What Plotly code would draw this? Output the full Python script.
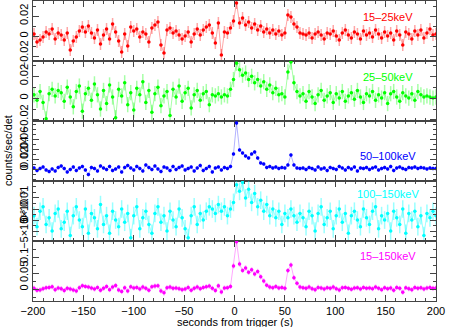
import plotly.graph_objects as go
from plotly.subplots import make_subplots

# bin centres, seconds from trigger
t = [-199, -196, -193, -190, -187, -184, -181, -178, -175, -172,
     -169, -166, -163, -160, -157, -154, -151, -148, -145, -142,
     -139, -136, -133, -130, -127, -124, -121, -118, -115, -112,
     -109, -106, -103, -100, -97, -94, -91, -88, -85, -82,
     -79, -76, -73, -70, -67, -64, -61, -58, -55, -52,
     -49, -46, -43, -40, -37, -34, -31, -28, -25, -22,
     -19, -16, -13, -10, -7, -4, -1, 2, 5, 8,
     11, 14, 17, 20, 23, 26, 29, 32, 35, 38,
     41, 44, 47, 50, 53, 56, 59, 62, 65, 68,
     71, 74, 77, 80, 83, 86, 89, 92, 95, 98,
     101, 104, 107, 110, 113, 116, 119, 122, 125, 128,
     131, 134, 137, 140, 143, 146, 149, 152, 155, 158,
     161, 164, 167, 170, 173, 176, 179, 182, 185, 188,
     191, 194, 197, 200]

rate_15_25 = [
    0.002, -0.006, -0.004, -0.001, 0.004, 0.002, 0.007, -0.003, 0.003, 0.001,
    -0.004, 0.003, -0.014, -0.005, -0.001, 0.005, 0.009, 0.004, 0.010, 0.003,
    -0.002, 0.006, -0.008, 0.001, 0.007, -0.003, 0.012, 0.004, -0.005, -0.016,
    0.002, -0.010, 0.009, 0.005, 0.007, -0.001, 0.004, 0.002, -0.006, 0.008,
    0.011, 0.014, -0.009, -0.017, 0.006, 0.008, 0.003, 0.005, 0.001, -0.003,
    0.000, 0.004, -0.006, 0.002, 0.007, 0.001, 0.006, 0.009, 0.011, 0.003,
    -0.007, 0.013, -0.019, 0.004, 0.003, 0.008,
    0.015, 0.033, 0.013, 0.018, 0.011, 0.014, 0.008, 0.012, 0.006, 0.010,
    0.004, 0.007, 0.003, 0.006, 0.002, 0.005, 0.001, 0.003, 0.021, 0.019,
    0.012, 0.009, 0.003,
    0.002, 0.001, 0.003, -0.002, 0.002, 0.004, 0.001, -0.003, 0.003, 0.002,
    0.005, 0.000, -0.004, 0.003, 0.006, 0.001, -0.002, 0.004, 0.002, -0.003,
    0.005, 0.001, 0.003, -0.001, 0.006, 0.002, -0.002, 0.004, 0.000, 0.003,
    -0.004, 0.005, 0.001, -0.009, 0.004, 0.002, -0.003, 0.005, 0.001, 0.006,
    -0.002, 0.003, 0.007, 0.001, 0.002]

rate_25_50 = [
    0.003, -0.002, 0.006, -0.004, -0.019, 0.004, 0.008, 0.002, 0.007, 0.005,
    -0.003, 0.010, 0.001, -0.008, 0.006, 0.011, -0.012, 0.004, 0.009, -0.002,
    0.013, 0.003, -0.010, 0.007, -0.005, 0.012, 0.001, -0.018, 0.008, 0.002,
    0.014, -0.006, 0.005, -0.011, 0.009, 0.003, 0.015, -0.004, 0.007, -0.013,
    0.004, 0.010, -0.007, 0.002, 0.006, -0.016, 0.008, 0.001, 0.011, -0.003,
    0.005, 0.009, -0.009, 0.003, 0.007, -0.002, 0.004, 0.006, -0.006, 0.003,
    0.002, 0.004, 0.001, 0.003, 0.002, 0.008,
    0.017, 0.032, 0.026, 0.021, 0.023, 0.017, 0.020, 0.014, 0.017, 0.011,
    0.015, 0.008, 0.012, 0.005, 0.009, 0.003, 0.004, 0.001, 0.024, 0.033,
    0.014, 0.006, 0.002,
    0.004, -0.003, 0.006, 0.001, -0.005, 0.003, 0.007, -0.002, 0.002, 0.005,
    -0.004, 0.004, 0.000, 0.006, -0.003, 0.002, 0.005, -0.001, 0.007, 0.001,
    -0.004, 0.004, 0.002, 0.006, -0.002, 0.003, 0.000, 0.005, -0.005, 0.004,
    0.006, 0.001, -0.003, 0.005, 0.002, 0.000, 0.004, -0.002, 0.006, 0.003,
    0.001, 0.002, 0.001, 0.000, 0.001]

rate_50_100 = [
    0.002, -0.003, 0.001, 0.004, -0.002, -0.005, 0.000, -0.004, 0.003, 0.006,
    0.001, -0.006, -0.001, 0.004, -0.003, 0.002, 0.005, -0.002, -0.011, 0.003,
    0.001, -0.004, 0.006, 0.002, -0.001, 0.005, -0.003, 0.000, 0.004, -0.006,
    0.003, 0.007, 0.002, -0.002, 0.005, 0.001, -0.004, 0.008, 0.003, -0.001,
    0.006, 0.000, -0.005, 0.004, 0.002, -0.003, 0.005, -0.001, 0.003, 0.006,
    -0.002, 0.001, 0.004, -0.004, 0.002, 0.007, -0.003, 0.001, 0.005, -0.006,
    0.002, 0.004, -0.002, 0.003, 0.001, 0.005,
    0.030, 0.092, 0.038, 0.032, 0.026, 0.022, 0.030, 0.034, 0.022, 0.012,
    0.010, 0.003, 0.005, 0.002, 0.004, 0.001, 0.003, 0.002, 0.008, 0.028,
    0.008, 0.002, 0.001,
    0.002, -0.001, 0.003, 0.001, -0.002, 0.004, 0.000, 0.002, -0.003, 0.003,
    0.001, -0.001, 0.005, 0.002, -0.002, 0.003, 0.000, 0.004, -0.004, 0.002,
    0.001, 0.003, -0.001, 0.002, 0.004, -0.002, 0.001, 0.003, 0.000, 0.005,
    -0.003, 0.002, 0.004, 0.001, -0.001, 0.003, 0.002, 0.004, 0.001, 0.003,
    0.002, 0.000, 0.002, 0.001, 0.001]

rate_100_150 = [
    0.002, -0.003, 0.004, 0.006, -0.002, 0.001, -0.005, 0.003, 0.005, -0.004,
    -0.001, 0.004, -0.007, 0.002, 0.006, 0.000, -0.003, 0.005, -0.006, 0.003,
    0.001, -0.004, 0.007, -0.002, 0.002, -0.006, 0.004, 0.000, -0.003, 0.005,
    -0.001, 0.003, -0.008, 0.002, 0.006, -0.004, 0.001, 0.004, -0.002, -0.006,
    0.003, 0.006, -0.001, 0.002, -0.005, 0.004, 0.000, -0.003, 0.005, 0.001,
    -0.004, -0.008, 0.002, 0.006, -0.002, 0.003, 0.000, 0.004, 0.006, 0.005,
    0.003, 0.007, 0.004, 0.006, 0.002, 0.005,
    0.008, 0.016, 0.013, 0.017, 0.010, 0.014, 0.008, 0.012, 0.006, 0.009,
    0.004, 0.007, 0.002, 0.005, 0.001, 0.004, -0.002, 0.003, 0.001, 0.005,
    0.002, -0.001, 0.003,
    0.001, -0.003, 0.004, 0.002, -0.005, 0.003, 0.006, -0.002, 0.001, 0.004,
    -0.004, 0.002, 0.005, -0.001, 0.003, -0.006, 0.002, 0.004, 0.000, -0.003,
    0.005, 0.001, -0.002, 0.004, 0.006, -0.004, 0.002, 0.000, 0.003, -0.005,
    0.004, 0.001, -0.002, 0.005, -0.006, 0.003, 0.000, 0.004, -0.003, 0.002,
    -0.007, 0.003, 0.001, 0.004, 0.002]

rate_15_150 = [
    0.002, -0.004, -0.003, 0.001, 0.004, 0.005, 0.007, -0.002, 0.003, 0.001,
    -0.005, 0.002, 0.000, -0.003, -0.006, 0.004, 0.010, 0.008, 0.006, 0.003,
    0.000, 0.005, -0.004, 0.002, 0.008, -0.002, 0.006, 0.011, -0.003, -0.008,
    0.004, -0.006, 0.007, 0.003, 0.005, 0.000, 0.006, 0.002, -0.004, 0.007,
    0.009, 0.010, -0.006, -0.012, 0.004, 0.006, 0.002, 0.003, 0.001, -0.002,
    0.000, 0.005, -0.004, 0.002, 0.006, 0.001, 0.005, 0.007, 0.009, 0.002,
    -0.005, 0.010, -0.009, 0.003, 0.004, 0.008,
    0.072, 0.148, 0.078, 0.058, 0.066, 0.052, 0.060, 0.047, 0.055, 0.038,
    0.025, 0.012, 0.006, 0.004, 0.008, 0.003, 0.005, 0.002, 0.058, 0.075,
    0.035, 0.018, 0.006,
    0.004, 0.002, 0.006, 0.001, -0.002, 0.005, 0.003, 0.000, 0.004, 0.002,
    0.006, 0.001, -0.003, 0.004, 0.005, 0.002, -0.001, 0.003, 0.004, 0.000,
    0.005, 0.002, 0.003, 0.001, 0.006, 0.002, -0.002, 0.004, 0.001, 0.003,
    -0.004, 0.005, 0.002, -0.010, 0.004, 0.001, -0.002, 0.005, 0.002, 0.004,
    0.000, 0.003, 0.005, 0.002, 0.003]

bands = ['15\u201325keV', '25\u201350keV', '50\u2013100keV', '100\u2013150keV', '15\u2013150keV']
rates = [rate_15_25, rate_25_50, rate_50_100, rate_100_150, rate_15_150]
errors = [0.006, 0.007, 0.004, 0.004, 0.008]

colors = ['#ff0000', '#00ff00', '#0000ff', '#00ffff', '#ff00ff']
pale = ['rgba(255,0,0,0.35)', 'rgba(0,255,0,0.35)', 'rgba(0,0,255,0.3)',
        'rgba(0,255,255,0.4)', 'rgba(255,0,255,0.35)']

y_ranges = [[-0.025, 0.035], [-0.021, 0.034], [-0.024, 0.096], [-0.0095, 0.0177], [-0.0375, 0.15]]
y_ticks = [[-0.02, 0, 0.02], [-0.02, 0, 0.02], [0, 0.02, 0.04, 0.06],
           [-0.005, 0, 0.005, 0.01], [0, 0.05, 0.1]]
y_labels = [['\u22120.02', '0', '0.02'], ['\u22120.02', '0', '0.02'], ['0', '0.02', '0.04', '0.06'],
            ['\u22125\u00d710\u207b\u00b3', '0', '5\u00d710\u207b\u00b3', '0.01'], ['0', '0.05', '0.1']]
y_minor = [0.01, 0.01, 0.01, 0.0025, 0.025]
# where each band label sits, in that panel's own units
label_y = [0.019, 0.0193, 0.026, 0.0118, 0.103]

font = 'Liberation Sans, Arial, sans-serif'
axcol = '#444444'

fig = make_subplots(rows=5, cols=1, shared_xaxes=True, vertical_spacing=0)

for i in range(5):
    r = i + 1
    fig.add_trace(go.Scatter(
        x=t, y=rates[i], mode='lines+markers',
        line=dict(color=pale[i], width=1),
        marker=dict(color=colors[i], size=3.5, symbol='circle'),
        error_y=dict(type='constant', value=errors[i], color=pale[i], thickness=1.5, width=0),
        error_x=dict(type='constant', value=1.5, color=pale[i], thickness=1, width=0),
        showlegend=False), row=r, col=1)
    fig.update_yaxes(range=y_ranges[i], tickvals=y_ticks[i], ticktext=y_labels[i],
                     tickangle=-90, minor=dict(dtick=y_minor[i], ticks='inside', ticklen=3, tickcolor=axcol),
                     row=r, col=1)
    fig.add_annotation(text=bands[i], x=152, y=label_y[i], row=r, col=1,
                       xanchor='center', yanchor='middle',
                       showarrow=False, font=dict(color=colors[i], size=11, family=font))

fig.update_xaxes(range=[-200, 200], dtick=50, ticks='inside', ticklen=6, tickcolor=axcol,
                 minor=dict(dtick=10, ticks='inside', ticklen=3, tickcolor=axcol),
                 showline=True, linecolor=axcol, linewidth=1, mirror='ticks',
                 showgrid=False, zeroline=False, automargin=False)
fig.update_yaxes(ticks='inside', ticklen=6, tickcolor=axcol, showline=True, linecolor=axcol,
                 linewidth=1, mirror='ticks', showgrid=False, zeroline=False, automargin=False)

fig.add_annotation(text='seconds from trigger (s)', x=0.5, y=-0.069, xref='paper', yref='paper',
                   xanchor='center', yanchor='middle',
                   showarrow=False, font=dict(size=11, family=font, color='black'))
fig.add_annotation(text='counts/sec/det', x=-0.062, y=0.5, xref='paper', yref='paper',
                   xanchor='center', yanchor='middle', textangle=-90,
                   showarrow=False, font=dict(size=11, family=font, color='black'))

fig.update_layout(
    width=454, height=327,
    margin=dict(l=33, r=18, t=1, b=26),
    plot_bgcolor='white', paper_bgcolor='white',
    font=dict(family=font, size=11, color='black'),
    showlegend=False,
)

# the page's default body margin would shift the figure by 8 px
fig.write_html("out.html", config={'displayModeBar': False},
               post_script="document.body.style.margin='0';")
